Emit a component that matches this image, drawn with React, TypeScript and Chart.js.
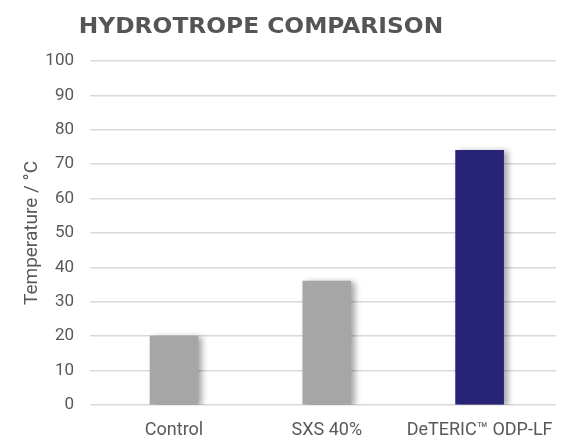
import React, { useEffect, useRef } from "react";
import { Chart, registerables } from "chart.js";

Chart.register(...registerables);

const categories: string[] = ["Control", "SXS 40%", "DeTERIC™ ODP-LF"];
const temperatures: number[] = [20, 36, 74];
const barColors: string[] = ["#a6a6a6", "#a6a6a6", "#272376"];
const yTicks: number[] = [0, 10, 20, 30, 40, 50, 60, 70, 80, 90, 100];
const titleText = "HYDROTROPE COMPARISON";
const yAxisTitle = "Temperature / °C";

const shadowPlugin = {
  id: "barShadow",
  beforeDatasetsDraw(chart: any) {
    const ctx = chart.ctx;
    ctx.save();
    ctx.shadowColor = "rgba(0,0,0,0.35)";
    ctx.shadowBlur = 6;
    ctx.shadowOffsetX = 4;
    ctx.shadowOffsetY = 1;
  },
  afterDatasetsDraw(chart: any) {
    chart.ctx.restore();
  },
};

const titlePlugin = {
  id: "wideTitle",
  afterDraw(chart: any) {
    const ctx = chart.ctx;
    ctx.save();
    ctx.font = "bold 22px 'DejaVu Sans'";
    ctx.fillStyle = "#555555";
    ctx.textAlign = "center";
    ctx.textBaseline = "alphabetic";
    ctx.translate(253, 25);
    ctx.scale(1.06, 1);
    ctx.fillText(titleText, 0, 0);
    ctx.restore();
  },
};

export default function App() {
  const ref = useRef<HTMLCanvasElement>(null);
  useEffect(() => {
    if (!ref.current) return;
    const chart = new Chart(ref.current, {
      type: "bar",
      data: {
        datasets: [
          {
            data: temperatures.map((v, i) => ({ x: i, y: v })),
            backgroundColor: barColors,
            borderWidth: 0,
            barThickness: 48,
          } as any,
        ],
      },
      options: {
        animation: false,
        responsive: false,
        maintainAspectRatio: false,
        layout: { padding: { top: 53, right: 6, left: 0, bottom: 0 } },
        plugins: {
          legend: { display: false },
          tooltip: { enabled: false },
          title: { display: false },
        },
        scales: {
          x: {
            type: "linear",
            min: -0.55,
            max: 2.5,
            offset: false,
            afterBuildTicks: (axis: any) => {
              axis.ticks = categories.map((_, i) => ({ value: i }));
            },
            afterFit: (axis: any) => {
              axis.height = 35;
              axis.paddingLeft = 0;
              axis.paddingRight = 0;
            },
            ticks: {
              color: "#595959",
              font: { family: "Roboto", size: 18 },
              padding: 15,
              maxRotation: 0,
              autoSkip: false,
              callback: (v: any) => categories[v as number] ?? "",
            },
            grid: { display: false, drawTicks: false },
            border: { display: false },
          },
          y: {
            min: 0,
            max: 100,
            afterBuildTicks: (axis: any) => {
              axis.ticks = yTicks.map((v) => ({ value: v }));
            },
            afterFit: (axis: any) => {
              axis.width = 82;
              axis.paddingTop = 0;
              axis.paddingBottom = 0;
            },
            ticks: {
              color: "#595959",
              font: { family: "Roboto", size: 17 },
              padding: 16,
            },
            grid: { color: "#d9d9d9", lineWidth: 1.5, drawTicks: false },
            border: { display: false },
            title: {
              display: true,
              text: yAxisTitle,
              color: "#595959",
              font: { family: "Roboto", size: 19 },
              padding: { top: 13, bottom: 0 },
            },
          },
        },
      },
      plugins: [shadowPlugin, titlePlugin],
    });
    return () => chart.destroy();
  }, []);
  return (
    <div style={{ width: 554, height: 432 }}>
      <canvas ref={ref} width={554} height={432} style={{ width: 554, height: 432 }} />
    </div>
  );
}
